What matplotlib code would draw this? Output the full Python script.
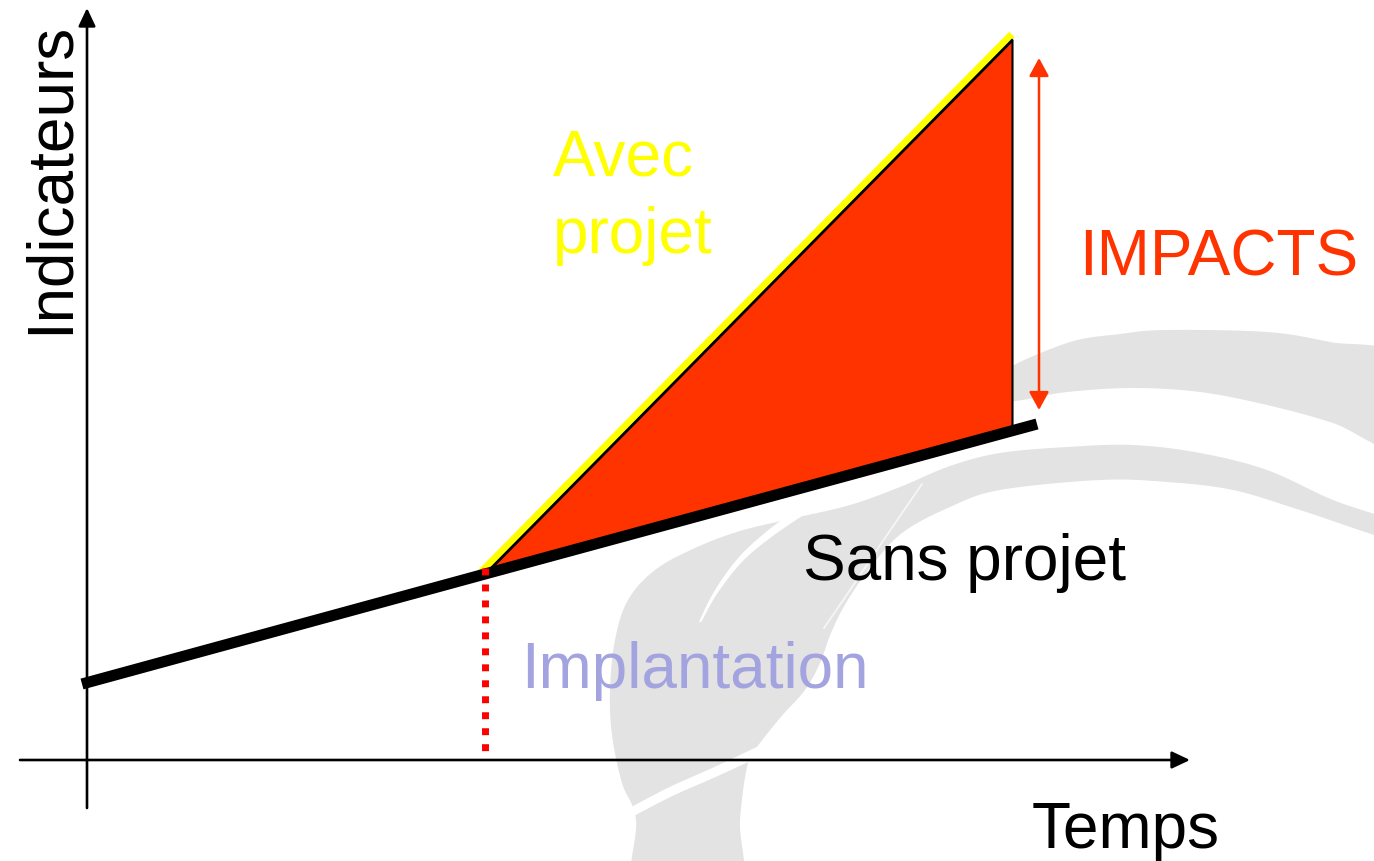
import numpy as np
import matplotlib
matplotlib.use("Agg")
import matplotlib.pyplot as plt
from matplotlib.patches import FancyArrowPatch, Polygon
from matplotlib import transforms

plt.rcParams['font.family'] = ['Liberation Sans', 'DejaVu Sans']

# ---------------- data (time on x, indicator on y; origin = axes crossing) ----
temps_sans = [-5, 398, 950]          # "Sans projet" baseline trend
valeurs_sans = [76, 186, 336]
temps_avec = [398, 925]              # "Avec projet" trajectory after implantation
valeurs_avec = [186, 720]
temps_implantation = 398
impact_haut, impact_bas = 702, 350   # IMPACTS arrow extent

labels = {
    "y": "Indicateurs",
    "x": "Temps",
    "avec1": "Avec",
    "avec2": "projet",
    "impacts": "IMPACTS",
    "sans": "Sans projet",
    "impl": "Implantation",
}

W, H = 1374, 861
fig = plt.figure(figsize=(W / 100, H / 100), dpi=100)

# ---------------- decorative background watermark (pixel coords) ----------------
bg = fig.add_axes([0, 0, 1, 1], zorder=0)
bg.set_xlim(0, W)
bg.set_ylim(H, 0)
bg.axis("off")


def _cr(p0, p1, p2, p3, t):
    return 0.5 * ((2 * p1) + (-p0 + p2) * t + (2 * p0 - 5 * p1 + 4 * p2 - p3) * t ** 2
                  + (-p0 + 3 * p1 - 3 * p2 + p3) * t ** 3)


def smooth_closed(pts, n=16):
    P = np.asarray(pts, float)
    N = len(P)
    t = np.linspace(0, 1, n, endpoint=False)[:, None]
    return np.vstack([_cr(P[i - 1], P[i], P[(i + 1) % N], P[(i + 2) % N], t) for i in range(N)])


def smooth_open(pts, n=16):
    P = np.asarray(pts, float)
    P = np.vstack([P[0], P, P[-1]])
    t = np.linspace(0, 1, n)[:, None]
    return np.vstack([_cr(P[i - 1], P[i], P[i + 1], P[i + 2], t) for i in range(1, len(P) - 2)])


def tapered(pts, w0, w1):
    c = smooth_open(pts)
    d = np.gradient(c, axis=0)
    d /= np.linalg.norm(d, axis=1)[:, None]
    nrm = np.column_stack([-d[:, 1], d[:, 0]])
    w = np.linspace(w0, w1, len(c))[:, None] / 2
    return np.vstack([c + nrm * w, (c - nrm * w)[::-1]])


GRAY = "#e3e3e3"
band1 = [(1000, 374), (1067, 343), (1120, 334), (1167, 330), (1267, 332), (1330, 342),
         (1400, 358), (1400, 448), (1333, 423), (1267, 405), (1200, 392), (1133, 388),
         (1067, 392), (1003, 401)]
crescent = [(1400, 524), (1333, 500), (1267, 470), (1200, 453), (1133, 445), (1067, 447),
            (1000, 453), (950, 466), (900, 487), (850, 505), (790, 519), (740, 531),
            (695, 548), (655, 570), (628, 600), (615, 640), (610, 690), (612, 735),
            (622, 783), (636, 820), (637, 900), (737, 900), (740, 820), (747, 767),
            (755, 750), (780, 718), (805, 690), (820, 663), (831, 633), (846, 603),
            (870, 568), (902, 533), (950, 507), (1000, 490), (1100, 480), (1167, 482),
            (1233, 490), (1300, 510), (1400, 542)]
for shape in (band1, crescent):
    bg.add_patch(Polygon(smooth_closed(shape), closed=True, facecolor=GRAY,
                         edgecolor="none"))
# white vein of the leaf, thin split line and lower stripe
bg.add_patch(Polygon(tapered([(700, 622), (716, 592), (740, 560), (768, 535), (800, 512)], 2, 9),
                     closed=True, facecolor="white", edgecolor="none"))
split = smooth_open([(824, 628), (850, 590), (885, 538), (922, 484)])
bg.plot(split[:, 0], split[:, 1], color="#f6f6f6", lw=1.3)
bg.add_patch(Polygon(tapered([(626, 815), (670, 792), (715, 772), (762, 750)], 9, 10),
                     closed=True, facecolor="white", edgecolor="none"))

# ---------------- main diagram axes (data coords) ----------------
ax = fig.add_axes([0, 0, 1, 1], zorder=1)
ax.patch.set_alpha(0)
ax.set_xlim(-87, W - 87)
ax.set_ylim(760 - H, 760)
ax.axis("off")

# axes arrows
arrow_style = "-|>,head_length=0.55,head_width=0.26"
ax.add_patch(FancyArrowPatch((0, -48), (0, 752), arrowstyle=arrow_style,
                             mutation_scale=20, color="black", lw=1.9, shrinkA=0, shrinkB=0,
                             zorder=2))
ax.add_patch(FancyArrowPatch((-67, 0), (1103, 0), arrowstyle=arrow_style,
                             mutation_scale=20, color="black", lw=1.9, shrinkA=0, shrinkB=0,
                             zorder=2))

# impact area (between avec and sans projet)
sans_at_avec = np.interp(temps_avec, temps_sans, valeurs_sans)
ax.fill_between(temps_avec, sans_at_avec, valeurs_avec, facecolor="#ff3300",
                edgecolor="black", lw=1.5, zorder=3)

# yellow "avec projet" highlight, shifted slightly up-left
yellow_tr = transforms.offset_copy(ax.transData, fig=fig, x=-2.0, y=2.0, units="points")
ax.plot(temps_avec, valeurs_avec, color="#ffff00", lw=5.5, solid_capstyle="projecting",
        transform=yellow_tr, zorder=2.5)
ax.plot(temps_avec, valeurs_avec, color="black", lw=1.5, zorder=3.5)

# sans projet thick line
ax.plot(temps_sans, valeurs_sans, color="black", lw=8.0, solid_capstyle="butt", zorder=4)

# implantation dotted line
impl_top = np.interp(temps_implantation, temps_sans, valeurs_sans) + 6
ax.plot([temps_implantation, temps_implantation], [impl_top, 8], color="#ff0000",
        lw=5.0, linestyle=(0, (1.0, 1.3)), dash_capstyle="butt", zorder=5)

# IMPACTS double arrow
ax.add_patch(FancyArrowPatch((952, impact_bas), (952, impact_haut),
                             arrowstyle="<|-|>,head_length=0.55,head_width=0.3",
                             mutation_scale=20, color="#ff3300", lw=1.8,
                             shrinkA=0, shrinkB=0, zorder=5))

# texts
FS = 46
ax.text(-19, 582, labels["y"], rotation=90, rotation_mode="anchor", ha="center",
        va="baseline", fontsize=FS, color="black")
ax.text(945, -88, labels["x"], ha="left", va="baseline", fontsize=FS, color="black")
ax.text(466, 585, labels["avec1"], ha="left", va="baseline", fontsize=FS, color="#ffff00")
ax.text(466, 507, labels["avec2"], ha="left", va="baseline", fontsize=FS, color="#ffff00")
ax.text(992, 485, labels["impacts"], ha="left", va="baseline", fontsize=FS, color="#ff3300")
ax.text(716, 180, labels["sans"], ha="left", va="baseline", fontsize=FS, color="black")
ax.text(434, 72, labels["impl"], ha="left", va="baseline", fontsize=FS, color="#a3a3e0")

fig.savefig("out.png", dpi=100)
